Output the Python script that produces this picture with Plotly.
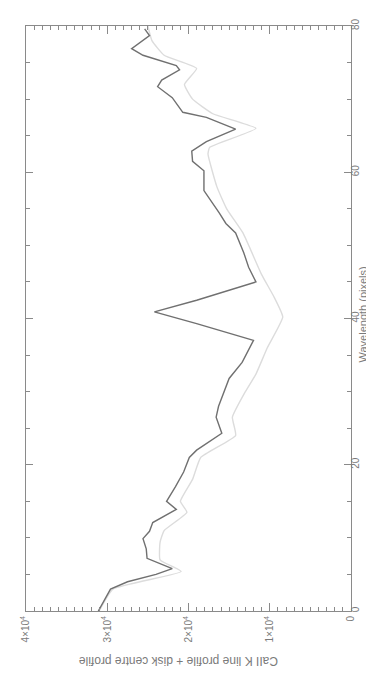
import plotly.graph_objects as go

# Wavelength (pixels) sample points and intensities
wl_line = [0, 1, 2, 3, 4, 5, 5.8, 6.5, 7.2, 8.5, 9.9, 10.9, 12.1, 13.9, 15, 17, 19, 21, 22,
           24.3, 26.5, 28, 30, 31.8, 34, 37, 39.3, 40.9, 42.5, 45, 47, 49, 51.7, 53, 54.4,
           56, 57.5, 60.2, 61.5, 62.9, 64.2, 65.9, 67.5, 68.2, 70.2, 71.7, 72.6, 74, 74.6,
           76, 76.9, 78.7, 79.6]
caii_k = [31100, 30600, 30000, 29600, 27500, 24000, 22000, 23500, 25100, 25200, 25600, 24800,
          24400, 21500, 22700, 21600, 20600, 19900, 19000, 15900, 16600, 16300, 15600, 15000,
          13400, 12000, 19000, 24200, 19000, 11700, 12600, 13200, 14200, 15400, 16200, 17200,
          18100, 18100, 19500, 19600, 17800, 14200, 17800, 20700, 22000, 23800, 23300, 21100,
          21500, 25600, 27000, 24800, 25400]

wl_disk = [0, 3, 5.4, 7, 9.4, 11, 13.5, 15, 18, 21, 24, 26.5, 30, 32.4, 36, 40.2, 43, 46,
           51.7, 55, 58, 62.5, 63.4, 66, 68, 70, 72, 74.2, 76, 78, 80]
disk_centre = [31000, 29300, 20900, 23500, 23500, 23000, 20200, 21000, 19500, 18500, 14200,
               14600, 13000, 11700, 10300, 8400, 9500, 11000, 13300, 15300, 16500, 17600,
               17400, 11700, 17000, 19500, 20500, 19000, 23000, 24500, 25000]

int_ticks = [0, 10000, 20000, 30000, 40000]
int_labels = ["0", "1×10<sup>4</sup>", "2×10<sup>4</sup>", "3×10<sup>4</sup>", "4×10<sup>4</sup>"]
wl_ticks = [0, 20, 40, 60, 80]
wl_labels = ["0", "20", "40", "60", "80"]

axis_col = "#8a8a8a"
text_col = "#7a7a7a"
font = "Liberation Sans, Arial, sans-serif"

fig = go.Figure()
fig.add_trace(go.Scatter(x=disk_centre, y=wl_disk, mode="lines",
                         line=dict(color="#dcdcdc", width=1.4, shape="spline", smoothing=0.4),
                         showlegend=False))
fig.add_trace(go.Scatter(x=caii_k, y=wl_line, mode="lines",
                         line=dict(color="#707070", width=1.4), showlegend=False))

fig.update_layout(
    width=374, height=674,
    margin=dict(l=13, r=31, t=11, b=71),
    paper_bgcolor="white", plot_bgcolor="white",
    font=dict(family=font, color=text_col, size=10),
    xaxis=dict(range=[40000, 0], tickvals=int_ticks, ticktext=int_labels, tickangle=-90,
               showgrid=False, zeroline=False, showline=True, linecolor=axis_col, linewidth=1,
               mirror="ticks", ticks="inside", ticklen=8, tickcolor=axis_col,
               minor=dict(dtick=1000, ticks="inside", ticklen=4, tickcolor=axis_col),
               tickfont=dict(size=10, color=text_col)),
    yaxis=dict(range=[0, 80], side="right", tickvals=wl_ticks, ticktext=wl_labels, tickangle=-90,
               showgrid=False, zeroline=False, showline=True, linecolor=axis_col, linewidth=1,
               mirror="ticks", ticks="inside", ticklen=7, tickcolor=axis_col,
               minor=dict(dtick=5, ticks="inside", ticklen=4, tickcolor=axis_col),
               ticklabelstandoff=-5,
               tickfont=dict(size=10, color=text_col)),
    annotations=[
        dict(text="Wavelength (pixels)", xref="paper", yref="paper", x=1.0, y=0.5,
             xshift=11, yshift=4, xanchor="center", yanchor="middle", showarrow=False,
             textangle=-90, font=dict(size=11, color=text_col)),
        dict(text="CaII K line profile + disk centre profile", xref="paper", yref="paper",
             x=0.5, y=0, xshift=-10, yshift=-50, xanchor="center", yanchor="middle",
             showarrow=False, textangle=180, font=dict(size=12, color=text_col)),
    ],
)

fig.write_html("out.html")
